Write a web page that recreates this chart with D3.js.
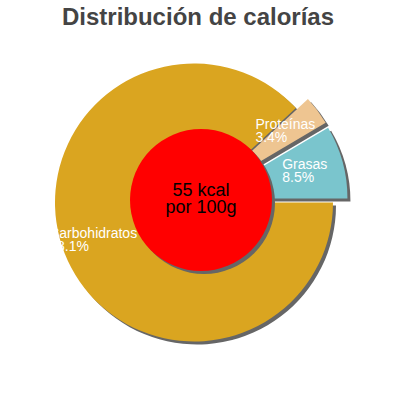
<!DOCTYPE html>
<html>
<head>
<meta charset="utf-8">
<script src="https://cdn.jsdelivr.net/npm/d3@7"></script>
<style>
  body { margin: 0; background: #fff; }
  svg { display: block; font-family: "Liberation Sans", Arial, sans-serif; }
</style>
</head>
<body>
<svg id="chart" width="400" height="400"></svg>
<script>
// Chart data
const categories = ["Grasas", "Proteínas", "Carbohidratos"];
const percents = [8.5, 3.4, 88.1];
const sliceColors = ["#7AC5CD", "#EEC591", "#DAA520"];
const energyKcal = 55;
const chartTitle = "Distribución de calorías";

const svg = d3.select("#chart");
const cx = 194, cy = 202.5, radius = 139;
const explodeDist = 15;

// Title
svg.append("text")
   .attr("x", 198)
   .attr("y", 25)
   .attr("text-anchor", "middle")
   .attr("font-size", "24px")
   .attr("font-weight", "bold")
   .attr("fill", "#444")
   .text(chartTitle);

const data = categories.map((c, i) => ({ name: c, value: percents[i], color: sliceColors[i] }));

// counter-clockwise from 3 o'clock
const pie = d3.pie()
              .sort(null)
              .value(d => d.value)
              .startAngle(Math.PI / 2)
              .endAngle(Math.PI / 2 - 2 * Math.PI);

const arcs = pie(data);
const path = d3.arc().innerRadius(0).outerRadius(radius);
const labelArc = d3.arc().innerRadius(104).outerRadius(104);

// small slices are pulled out
const offset = d => {
    if (d.data.value > 50) return [0, 0];
    const mid = (d.startAngle + d.endAngle) / 2;
    return [explodeDist * Math.sin(mid), -explodeDist * Math.cos(mid)];
};

const g = svg.append("g").attr("transform", `translate(${cx},${cy})`);

// shadows first
g.selectAll(".shadow")
 .data(arcs)
 .enter().append("path")
 .attr("class", "shadow")
 .attr("d", path)
 .attr("fill", "#666")
 .attr("transform", d => { const o = offset(d); return `translate(${o[0] + 3},${o[1] + 3})`; });

g.selectAll(".slice")
 .data(arcs)
 .enter().append("path")
 .attr("class", "slice")
 .attr("d", path)
 .attr("fill", d => d.data.color)
 .attr("transform", d => { const o = offset(d); return `translate(${o[0]},${o[1]})`; });

// Labels: first line centred on the label point, second line aligned with it
const labels = g.selectAll(".label")
                .data(arcs)
                .enter().append("text")
                .attr("class", "label")
                .attr("fill", "#fff")
                .attr("font-size", "14px");

labels.each(function(d) {
    const t = d3.select(this);
    const o = offset(d);
    const c = labelArc.centroid(d);
    const x = c[0] + o[0] - 4, y = c[1] + o[1] - 2;
    const first = t.append("tspan").attr("y", y).text(d.data.name);
    const w = first.node().getComputedTextLength();
    first.attr("x", x - w / 2);
    t.append("tspan")
     .attr("x", x - w / 2)
     .attr("y", y + 12.5)
     .text(d.data.value.toFixed(1) + "%");
});

// Center circle
const hx = 201, hy = 200, hr = 71;
svg.append("circle")
   .attr("cx", hx + 3).attr("cy", hy + 3).attr("r", hr)
   .attr("fill", "#666");
svg.append("circle")
   .attr("cx", hx).attr("cy", hy).attr("r", hr)
   .attr("fill", "#FF0000");

const center = svg.append("text")
                  .attr("text-anchor", "middle")
                  .attr("font-size", "18px")
                  .attr("fill", "#000");
center.append("tspan").attr("x", hx).attr("y", 196).text(`${energyKcal} kcal`);
center.append("tspan").attr("x", hx).attr("y", 213).text("por 100g");
</script>
</body>
</html>
